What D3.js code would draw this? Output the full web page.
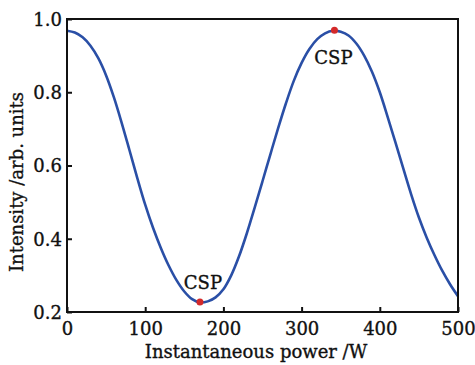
<!DOCTYPE html>
<html>
<head>
<meta charset="utf-8">
<script src="https://cdn.jsdelivr.net/npm/d3@7"></script>
<style>
  html, body { margin: 0; padding: 0; background: #fff; }
  svg { display: block; }
  text { font-family: "DejaVu Serif", "Liberation Serif", serif; fill: #111; stroke: #111; stroke-width: 0.35px; }
</style>
</head>
<body>
<div id="chart"></div>
<script>
// Data
const powerW = [0,10,20,30,40,50,60,70,80,90,100,110,120,130,140,150,160,170,
  180,190,200,210,220,230,240,250,260,270,280,290,300,310,320,330,340,350,
  360,370,380,390,400,410,420,430,440,450,460,470,480,490,500];
const intensity = [0.968,0.963,0.950,0.927,0.893,0.846,0.786,0.716,0.641,0.565,0.493,0.430,0.375,0.327,0.287,0.256,0.235,0.226,
  0.229,0.240,0.262,0.300,0.352,0.415,0.485,0.557,0.630,0.702,0.770,0.831,0.880,0.918,0.945,0.961,0.968,0.965,
  0.955,0.933,0.900,0.856,0.800,0.733,0.663,0.592,0.522,0.458,0.403,0.355,0.312,0.275,0.243];
const cspPower = [170, 342];
const cspIntensity = [0.227, 0.969];
const cspLabels = ["CSP", "CSP"];
const xTicks = [0,100,200,300,400,500];
const yTicks = [0.2,0.4,0.6,0.8,1.0];
const xTitle = "Instantaneous power /W";
const yTitle = "Intensity /arb. units";

const W = 475, H = 365;
const m = {left: 67, right: 17, top: 19, bottom: 53};
const svg = d3.select("#chart").append("svg").attr("width", W).attr("height", H);

const x = d3.scaleLinear().domain([0, 500]).range([m.left, W - m.right]);
const y = d3.scaleLinear().domain([0.2, 1.0]).range([H - m.bottom, m.top]);

// curve
const pts = powerW.map((p, i) => [p, intensity[i]]);
svg.append("path")
  .datum(pts)
  .attr("fill", "none")
  .attr("stroke", "#2a4fa6")
  .attr("stroke-width", 2.6)
  .attr("d", d3.line().x(d => x(d[0])).y(d => y(d[1])).curve(d3.curveCatmullRom.alpha(0.5)));

// axes
const xAxis = svg.append("g").attr("transform", `translate(0,${H - m.bottom})`)
  .call(d3.axisBottom(x).tickValues(xTicks).tickFormat(d3.format("d")).tickSizeInner(-5).tickSizeOuter(0).tickPadding(9));
const yAxis = svg.append("g").attr("transform", `translate(${m.left},0)`)
  .call(d3.axisLeft(y).tickValues(yTicks).tickFormat(d3.format(".1f")).tickSizeInner(-5).tickSizeOuter(0).tickPadding(5));
[xAxis, yAxis].forEach(g => {
  g.select(".domain").remove();
  g.selectAll(".tick line").attr("stroke", "#111").attr("stroke-width", 2);
  g.selectAll(".tick text").attr("font-size", 18).attr("fill", "#111")
    .style("font-family", '"DejaVu Serif", "Liberation Serif", serif');
});
yAxis.selectAll(".tick text").attr("dy", "0.36em");
xAxis.selectAll(".tick text").attr("dy", "0.8em");

// frame
svg.append("rect")
  .attr("x", m.left).attr("y", m.top)
  .attr("width", W - m.left - m.right).attr("height", H - m.top - m.bottom)
  .attr("fill", "none").attr("stroke", "#111").attr("stroke-width", 2);

// CSP markers
svg.selectAll("circle.csp").data(cspPower).join("circle")
  .attr("class", "csp")
  .attr("cx", d => x(d)).attr("cy", (d, i) => y(cspIntensity[i]))
  .attr("r", 3.5).attr("fill", "#d42a2a");

const labelOffsets = [{dx: 3, dy: -13}, {dx: -1, dy: 34}];
svg.selectAll("text.csp").data(cspPower).join("text")
  .attr("class", "csp")
  .attr("x", (d, i) => x(d) + labelOffsets[i].dx)
  .attr("y", (d, i) => y(cspIntensity[i]) + labelOffsets[i].dy)
  .attr("text-anchor", "middle")
  .attr("font-size", 18)
  .text((d, i) => cspLabels[i]);

// titles
svg.append("text")
  .attr("x", 256).attr("y", 358)
  .attr("text-anchor", "middle").attr("font-size", 18)
  .text(xTitle);
svg.append("text")
  .attr("transform", `translate(23,182) rotate(-90)`)
  .attr("text-anchor", "middle").attr("font-size", 18)
  .text(yTitle);
</script>
</body>
</html>
